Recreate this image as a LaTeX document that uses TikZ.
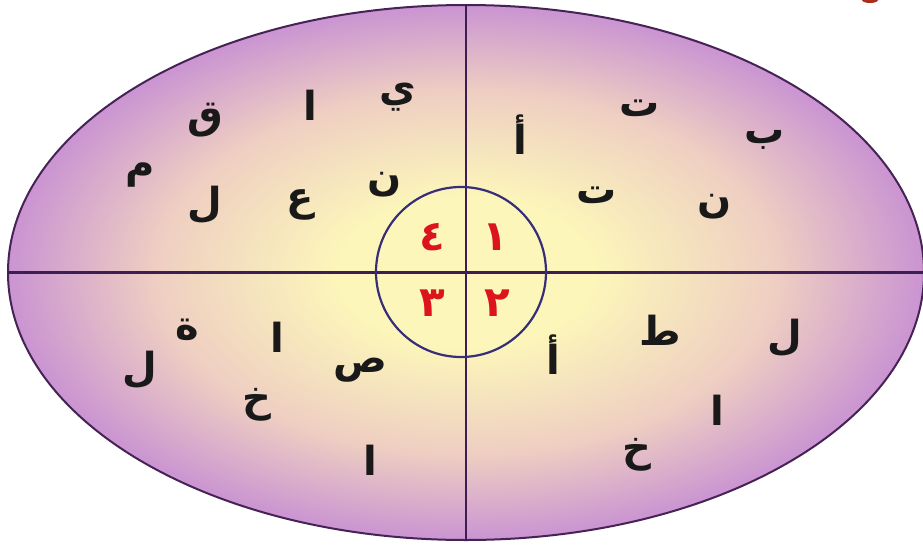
\documentclass[tikz,border=0pt]{standalone}
\usepackage{fontspec}
\newfontfamily\arabicfont[Script=Arabic]{DejaVu Sans}
\TeXXeTstate=1
\usetikzlibrary{shapes.geometric}
\definecolor{cin}{RGB}{252,246,186}
\definecolor{cmid}{RGB}{238,206,194}
\definecolor{cout}{RGB}{202,148,210}
\definecolor{edgec}{RGB}{70,35,85}
\definecolor{axisc}{RGB}{60,30,85}
\definecolor{circc}{RGB}{55,45,120}
\definecolor{numred}{RGB}{220,20,30}
\definecolor{blobred}{RGB}{170,45,25}
\pgfdeclareradialshading{ellshade}{\pgfpoint{0bp}{0bp}}{color(0bp)=(cin); color(7bp)=(cin); color(17bp)=(cmid); color(25bp)=(cout); color(50bp)=(cout)}
\begin{document}
\begin{tikzpicture}[x=1pt,y=-1pt,
  letter/.style={font=\arabicfont\bfseries\fontsize{40}{48}\selectfont, text=black!90, inner sep=0pt},
  num/.style={font=\arabicfont\bfseries\fontsize{42}{50}\selectfont, text=numred, inner sep=0pt},
  axisline/.style={draw=axisc, line width=2.2pt}]
\useasboundingbox (0,0) rectangle (923,546);
\fill[white] (0,0) rectangle (923,546);
\begin{scope}
\clip (0,0) rectangle (923,546);
\node[ellipse, draw=edgec, line width=2pt, shading=ellshade, minimum width=916pt, minimum height=535pt, inner sep=0pt] (E) at (466,272.5) {};
\fill[blobred] (870,0) ellipse (8 and 3);
\draw[axisline] (E.west) -- (E.east);
\draw[axisline] (E.north) -- (E.south);
\node[circle, draw=circc, line width=2.2pt, minimum size=170pt, inner sep=0pt] (C) at (461,272) {};
\end{scope}
% numerals
\node[num] (n1) at (495,237) {\beginR ١\endR};
\node[num] (n2) at (497,303) {\beginR ٢\endR};
\node[num] (n3) at (432,303) {\beginR ٣\endR};
\node[num] (n4) at (432,237) {\beginR ٤\endR};
% top-left
\node[letter] (a1) at (398,97) {\beginR ي\endR};
\node[letter] (a2) at (310,105) {\beginR ا\endR};
\node[letter] (a3) at (205,120) {\beginR ق\endR};
\node[letter] (a4) at (140,175) {\beginR م\endR};
\node[letter] (a5) at (205,205) {\beginR ل\endR};
\node[letter] (a6) at (300,205) {\beginR ع\endR};
\node[letter] (a7) at (385,185) {\beginR ن\endR};
% top-right
\node[letter] (b1) at (640,108) {\beginR ت\endR};
\node[letter] (b2) at (765,140) {\beginR ب\endR};
\node[letter] (b3) at (520,135) {\beginR أ\endR};
\node[letter] (b4) at (597,195) {\beginR ت\endR};
\node[letter] (b5) at (715,207) {\beginR ن\endR};
% bottom-left
\node[letter] (c1) at (187,330) {\beginR ة\endR};
\node[letter] (c2) at (277,337) {\beginR ا\endR};
\node[letter] (c3) at (140,370) {\beginR ل\endR};
\node[letter] (c4) at (360,370) {\beginR ص\endR};
\node[letter] (c5) at (257,405) {\beginR خ\endR};
\node[letter] (c6) at (370,460) {\beginR ا\endR};
% bottom-right
\node[letter] (d1) at (660,330) {\beginR ط\endR};
\node[letter] (d2) at (785,338) {\beginR ل\endR};
\node[letter] (d3) at (553,355) {\beginR أ\endR};
\node[letter] (d4) at (717,410) {\beginR ا\endR};
\node[letter] (d5) at (637,455) {\beginR خ\endR};
\end{tikzpicture}
\end{document}
